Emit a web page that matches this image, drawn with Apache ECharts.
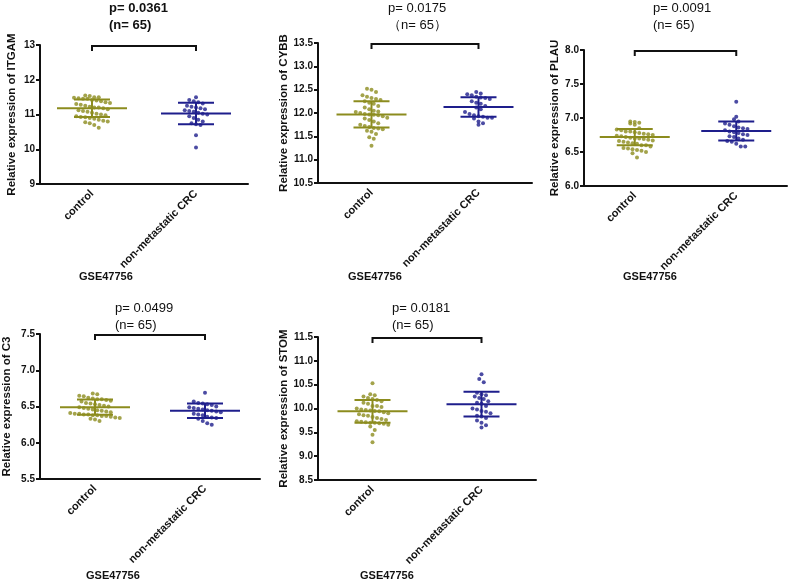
<!DOCTYPE html>
<html>
<head>
<meta charset="utf-8">
<script src="https://cdn.jsdelivr.net/npm/echarts@6/dist/echarts.min.js"></script>
<style>
  html, body { margin: 0; padding: 0; background: #fff; }
  #main { width: 793px; height: 585px; }
</style>
</head>
<body>
<div id="main"></div>
<script>
// 数据
const genes = ['ITGAM', 'CYBB', 'PLAU', 'C3', 'STOM'];
const categories = ['control', 'non-metastatic CRC'];
const pLabels = ['p= 0.0361', 'p= 0.0175', 'p= 0.0091', 'p= 0.0499', 'p= 0.0181'];
const nLabels = ['(n= 65)', '（n= 65）', '(n= 65)', '(n= 65)', '(n= 65)'];
const datasetLabel = 'GSE47756';

const yMin = [9, 10.5, 6.0, 5.5, 8.5];
const yMax = [13, 13.5, 8.0, 7.5, 11.5];
const yStep = [1, 0.5, 0.5, 0.5, 0.5];

const controlMean = [11.18, 11.97, 6.72, 6.49, 9.94];
const controlSD = [0.25, 0.28, 0.12, 0.105, 0.24];
const crcMean = [11.03, 12.13, 6.81, 6.44, 10.09];
const crcSD = [0.31, 0.21, 0.14, 0.10, 0.26];

const itgamControl = [11.55, 11.53, 11.5, 11.5, 11.48, 11.47, 11.45, 11.45, 11.42, 11.4, 11.38, 11.35, 11.33, 11.3, 11.28, 11.25, 11.22, 11.2, 11.2, 11.18, 11.15, 11.12, 11.1, 11.08, 11.05, 11.02, 11.0, 10.98, 10.95, 10.93, 10.92, 10.9, 10.88, 10.85, 10.82, 10.8, 10.78, 10.75, 10.7, 10.62];
const itgamCRC = [11.5, 11.42, 11.38, 11.35, 11.32, 11.25, 11.22, 11.2, 11.18, 11.15, 11.12, 11.1, 11.08, 11.05, 11.02, 11.0, 10.95, 10.9, 10.85, 10.8, 10.75, 10.72, 10.7, 10.4, 10.05];
const cybbControl = [12.52, 12.5, 12.45, 12.38, 12.35, 12.32, 12.3, 12.28, 12.25, 12.22, 12.2, 12.15, 12.12, 12.08, 12.05, 12.03, 12.02, 12.0, 11.98, 11.97, 11.96, 11.95, 11.93, 11.9, 11.88, 11.85, 11.82, 11.78, 11.75, 11.72, 11.7, 11.68, 11.67, 11.65, 11.62, 11.6, 11.55, 11.48, 11.45, 11.3];
const cybbCRC = [12.45, 12.42, 12.4, 12.38, 12.35, 12.33, 12.32, 12.3, 12.25, 12.22, 12.2, 12.15, 12.12, 12.08, 12.02, 11.98, 11.95, 11.93, 11.92, 11.9, 11.9, 11.88, 11.82, 11.78, 11.75];
const plauControl = [6.95, 6.94, 6.93, 6.92, 6.9, 6.85, 6.83, 6.82, 6.8, 6.8, 6.79, 6.78, 6.77, 6.76, 6.75, 6.74, 6.73, 6.72, 6.71, 6.7, 6.7, 6.69, 6.68, 6.67, 6.66, 6.65, 6.64, 6.63, 6.62, 6.6, 6.6, 6.58, 6.56, 6.55, 6.54, 6.53, 6.52, 6.5, 6.48, 6.42];
const plauCRC = [7.24, 7.02, 6.98, 6.95, 6.92, 6.9, 6.88, 6.86, 6.85, 6.84, 6.82, 6.8, 6.79, 6.78, 6.76, 6.75, 6.73, 6.72, 6.7, 6.68, 6.66, 6.65, 6.62, 6.58, 6.58];
const c3Control = [6.68, 6.67, 6.65, 6.64, 6.62, 6.61, 6.6, 6.6, 6.59, 6.58, 6.57, 6.55, 6.54, 6.53, 6.52, 6.51, 6.5, 6.49, 6.48, 6.47, 6.46, 6.45, 6.44, 6.43, 6.42, 6.41, 6.4, 6.4, 6.39, 6.39, 6.38, 6.38, 6.37, 6.37, 6.36, 6.35, 6.34, 6.33, 6.32, 6.3];
const c3CRC = [6.69, 6.57, 6.55, 6.54, 6.53, 6.52, 6.5, 6.49, 6.48, 6.47, 6.46, 6.45, 6.44, 6.43, 6.42, 6.4, 6.39, 6.38, 6.36, 6.35, 6.34, 6.33, 6.3, 6.27, 6.25];
const stomControl = [10.53, 10.3, 10.28, 10.25, 10.22, 10.2, 10.18, 10.15, 10.12, 10.1, 10.05, 10.05, 10.03, 10.0, 9.98, 9.97, 9.96, 9.95, 9.94, 9.92, 9.9, 9.88, 9.86, 9.85, 9.82, 9.8, 9.78, 9.76, 9.73, 9.72, 9.71, 9.7, 9.7, 9.69, 9.68, 9.66, 9.62, 9.55, 9.45, 9.29];
const stomCRC = [10.72, 10.62, 10.55, 10.33, 10.3, 10.28, 10.25, 10.22, 10.2, 10.15, 10.12, 10.1, 10.05, 10.0, 9.98, 9.95, 9.93, 9.9, 9.85, 9.83, 9.8, 9.75, 9.7, 9.65, 9.6];

const controlData = [itgamControl, cybbControl, plauControl, c3Control, stomControl];
const crcData = [itgamCRC, cybbCRC, plauCRC, c3CRC, stomCRC];

// 布局
const grids = [
  { left: 40, top: 45, width: 208, height: 139 },
  { left: 318, top: 43, width: 214, height: 140 },
  { left: 584, top: 50, width: 203, height: 136 },
  { left: 40, top: 334, width: 220, height: 145 },
  { left: 318, top: 337, width: 218, height: 143 }
];
const titlePos = [[109, 0, true], [388, 0, false], [653, 0, false], [115, 300, false], [392, 300, false]];
const nameGaps = [22, 27, 23, 27, 27];
const gsePos = [[106, 278], [375, 278], [650, 278], [113, 577], [387, 577]];

const olive = '#8c8c1e';
const navy = '#1e1e8c';
const font = 'Liberation Sans, Arial, sans-serif';

// 按数值分箱，横向排开（蜂群图）
function swarm(vals, center, bin, step) {
  const groups = {};
  vals.forEach(v => {
    const k = Math.round(v / bin);
    (groups[k] = groups[k] || []).push(v);
  });
  const out = [];
  Object.keys(groups).forEach(k => {
    const g = groups[k];
    g.forEach((v, i) => {
      out.push([center + (i - (g.length - 1) / 2) * step, v]);
    });
  });
  return out;
}

function errRender(params, api) {
  const x = api.value(0), m = api.value(1), sd = api.value(2);
  const c = api.coord([x, m]);
  const hi = api.coord([x, m + sd]);
  const lo = api.coord([x, m - sd]);
  const style = { stroke: api.visual('color'), lineWidth: 2 };
  return {
    type: 'group',
    children: [
      { type: 'line', shape: { x1: c[0] - 35, y1: c[1], x2: c[0] + 35, y2: c[1] }, style },
      { type: 'line', shape: { x1: c[0] - 18, y1: hi[1], x2: c[0] + 18, y2: hi[1] }, style },
      { type: 'line', shape: { x1: c[0] - 18, y1: lo[1], x2: c[0] + 18, y2: lo[1] }, style },
      { type: 'line', shape: { x1: c[0], y1: lo[1], x2: c[0], y2: hi[1] }, style }
    ]
  };
}

function bracketRender(params, api) {
  const a = api.coord([api.value(0), api.value(2)]);
  const b = api.coord([api.value(1), api.value(2)]);
  return {
    type: 'polyline',
    shape: { points: [[a[0], a[1] + 6], [a[0], a[1] + 1], [b[0], b[1] + 1], [b[0], b[1] + 6]] },
    style: { stroke: '#111', lineWidth: 2, fill: null }
  };
}

const option = { animation: false, title: [], grid: [], xAxis: [], yAxis: [], series: [], graphic: [] };

genes.forEach((gene, i) => {
  const g = grids[i];
  option.grid.push(g);
  option.title.push({
    text: pLabels[i] + '\n' + nLabels[i],
    left: titlePos[i][0], top: titlePos[i][1], padding: 0,
    textStyle: { fontFamily: font, fontSize: 13, fontWeight: titlePos[i][2] ? 'bold' : 'normal', lineHeight: 17, color: '#111' }
  });
  // 显示用的类别轴
  option.xAxis.push({
    type: 'category', gridIndex: i, data: categories, boundaryGap: true,
    axisLine: { lineStyle: { color: '#111', width: 2 } },
    axisTick: { alignWithLabel: true, length: 5, lineStyle: { color: '#111', width: 2 } },
    axisLabel: { rotate: 45, margin: 8, fontFamily: font, fontSize: 11, fontWeight: 'bold', color: '#111' },
    splitLine: { show: false }
  });
  // 画点用的数值轴（隐藏）
  option.xAxis.push({ type: 'value', gridIndex: i, min: 0, max: 4, show: false });
  option.yAxis.push({
    type: 'value', gridIndex: i, min: yMin[i], max: yMax[i], interval: yStep[i],
    name: 'Relative expression of ' + gene, nameLocation: 'middle', nameGap: nameGaps[i],
    nameTextStyle: { fontFamily: font, fontSize: 11.5, fontWeight: 'bold', color: '#111' },
    axisLine: { show: true, lineStyle: { color: '#111', width: 2 } },
    axisTick: { show: true, length: 4, lineStyle: { color: '#111', width: 2 } },
    axisLabel: {
      margin: 5, fontFamily: font, fontSize: 10, fontWeight: 'bold', color: '#111',
      formatter: v => (yStep[i] >= 1 ? v.toFixed(0) : v.toFixed(1))
    },
    splitLine: { show: false }
  });
  const pxPerUnit = g.width / 4;
  const bin = (yMax[i] - yMin[i]) * 6 / g.height;
  const step = 4.5 / pxPerUnit;
  const xi = i * 2 + 1;
  option.series.push(
    { type: 'scatter', xAxisIndex: xi, yAxisIndex: i, symbolSize: 4, itemStyle: { color: olive }, data: swarm(controlData[i], 1, bin, step) },
    { type: 'scatter', xAxisIndex: xi, yAxisIndex: i, symbolSize: 4, itemStyle: { color: navy }, data: swarm(crcData[i], 3, bin, step) },
    { type: 'custom', xAxisIndex: xi, yAxisIndex: i, renderItem: errRender, itemStyle: { color: olive }, data: [[1, controlMean[i], controlSD[i]]], z: 3 },
    { type: 'custom', xAxisIndex: xi, yAxisIndex: i, renderItem: errRender, itemStyle: { color: navy }, data: [[3, crcMean[i], crcSD[i]]], z: 3 },
    { type: 'custom', xAxisIndex: xi, yAxisIndex: i, renderItem: bracketRender, clip: false, data: [[1, 3, yMax[i]]] }
  );
  option.graphic.push({
    type: 'text', left: gsePos[i][0] - 27, top: gsePos[i][1] - 7,
    style: { text: datasetLabel, font: 'bold 11px ' + font, fill: '#111' }
  });
});

const myChart = echarts.init(document.getElementById('main'));
myChart.setOption(option);

window.addEventListener('resize', function () {
  myChart.resize();
});
</script>
</body>
</html>
